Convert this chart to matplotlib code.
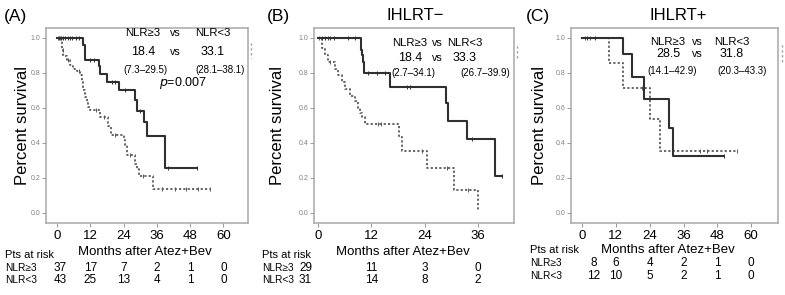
import numpy as np
import matplotlib.pyplot as plt
from matplotlib import transforms
from matplotlib.lines import Line2D

plt.rcParams['font.family'] = ['Liberation Sans', 'DejaVu Sans']

W, H = 785, 295

# ---- panel A : all patients ----
a_hi_t = [0, 1.7, 2.3, 3.5, 4.7, 5.9, 7.1, 8.3, 8.9, 9.5, 10.1, 10.7, 11.3, 11.9,
          15.5, 18.5, 19.5, 24.0, 24.5, 25.2, 28.2, 28.8, 29.4, 34.8]
a_hi_s = [1.0, 0.933, 0.894, 0.875, 0.845, 0.825, 0.808, 0.789, 0.75, 0.702, 0.664,
          0.635, 0.607, 0.587, 0.549, 0.495, 0.443, 0.415, 0.385, 0.332, 0.28, 0.25,
          0.209, 0.136]
a_hi_end = 55.2
a_hi_cens = [0.5, 1.2, 2.0, 4.0, 8.0, 14.0, 17.0, 21.0, 26.5, 31.0, 38.0, 42.5, 46.5, 51.0, 55.2]

a_lo_t = [0, 9.3, 10.0, 15.0, 15.5, 18.2, 22.5, 28.2, 28.8, 31.4, 32.6, 39.0]
a_lo_s = [1.0, 0.96, 0.871, 0.837, 0.795, 0.75, 0.70, 0.645, 0.583, 0.516, 0.44, 0.257]
a_lo_end = 50.4
a_lo_cens = [0.8, 1.5, 2.3, 3.0, 3.8, 4.6, 5.5, 7.0, 8.0, 12.0, 13.5, 19.8, 21.0,
             24.5, 30.0, 40.0, 50.4]

a_months = [0, 12, 24, 36, 48, 60]
a_risk_hi = [37, 17, 7, 2, 1, 0]
a_risk_lo = [43, 25, 13, 4, 1, 0]
a_stats = [('18.4', '33.1'), ('(7.3\u201329.5)', '(28.1\u201338.1)')]
a_p = '=0.007'

# ---- panel B : IHLRT- ----
b_hi_t = [0, 0.8, 1.6, 2.3, 3.8, 4.4, 5.3, 6.1, 7.2, 8.3, 9.1, 9.5, 9.8, 10.6,
          18.3, 18.8, 24.5, 30.5, 35.9]
b_hi_s = [1.0, 0.94, 0.90, 0.86, 0.82, 0.79, 0.75, 0.71, 0.67, 0.64, 0.60, 0.57,
          0.55, 0.505, 0.43, 0.35, 0.257, 0.13, 0.01]
b_hi_end = 35.9
b_hi_cens = [0.3, 2.8, 13.6, 14.2, 23.3, 29.0, 33.8]

b_lo_t = [0, 9.7, 9.9, 10.1, 10.4, 16.2, 28.7, 29.3, 33.5, 39.8]
b_lo_s = [1.0, 0.93, 0.90, 0.86, 0.80, 0.72, 0.63, 0.524, 0.419, 0.21]
b_lo_end = 41.3
b_lo_cens = [0.8, 1.6, 2.2, 2.8, 3.5, 6.8, 8.3, 11.3, 13.2, 15.0, 20.0, 20.7, 34.6, 41.3]

b_months = [0, 12, 24, 36]
b_risk_hi = [29, 11, 3, 0]
b_risk_lo = [31, 14, 8, 2]
b_stats = [('18.4', '33.3'), ('(2.7\u201334.1)', '(26.7\u201339.9)')]

# ---- panel C : IHLRT+ ----
c_hi_t = [0, 9.6, 14.7, 24.1, 27.7]
c_hi_s = [1.0, 0.857, 0.714, 0.537, 0.352]
c_hi_end = 54.9
c_hi_cens = [1.0, 3.0, 21.2, 41.9, 44.3, 54.9]

c_lo_t = [0, 14.7, 17.6, 22.1, 30.9, 32.4]
c_lo_s = [1.0, 0.91, 0.777, 0.648, 0.486, 0.324]
c_lo_end = 50.2
c_lo_cens = [1.7, 4.6, 50.2]

c_months = [0, 12, 24, 36, 48, 60]
c_risk_hi = [8, 6, 4, 2, 1, 0]
c_risk_lo = [12, 10, 5, 2, 1, 0]
c_stats = [('28.5', '31.8'), ('(14.1\u201342.9)', '(20.3\u201343.3)')]

y_ticks = [0.0, 0.2, 0.4, 0.6, 0.8, 1.0]

SOLID = '#303030'
DOT = '#5a5a5a'
FRAME = '#a8a8a8'


def fx(px):
    return px / W


def fy(py):
    return 1 - py / H


def km(ax, t, s, end, cens, color, ls, lw):
    ax.step(list(t) + [end], list(s) + [s[-1]], where='post', color=color, ls=ls, lw=lw)
    idx = np.searchsorted(t, cens, side='right') - 1
    ax.plot(cens, np.array(s)[idx], ls='none', marker='|', ms=3, mew=0.7, color=color)


def panel(fig, box, xlim, months):
    l, r = box
    ax = fig.add_axes([fx(l), fy(223), fx(r) - fx(l), fy(28) - fy(223)])
    ax.set_xlim(*xlim)
    ax.set_ylim(-0.06, 1.057)
    ax.set_xticks(months)
    ax.set_yticks(y_ticks)
    ax.set_yticklabels([f'{v:.1f}' for v in y_ticks])
    ax.tick_params(axis='y', length=3, width=0.6, color='#888888', labelsize=5,
                   labelcolor='#808080', pad=1)
    ax.tick_params(axis='x', length=3, width=0.6, color='#888888', labelsize=9.5, pad=2)
    for sp in ax.spines.values():
        sp.set_color(FRAME)
        sp.set_linewidth(1.1)
    return ax


def risk_table(fig, ax, months, hi, lo, first_shift, x_lab, y_rows, font=8.5):
    tr = transforms.blended_transform_factory(ax.transData, fig.transFigure)
    xs = [m + (first_shift if i == 0 else 0) for i, m in enumerate(months)]
    fig.text(fx(x_lab), fy(y_rows[0]), 'Pts at risk', fontsize=8, va='center', ha='left')
    fig.text(fx(x_lab), fy(y_rows[1]), 'NLR\u22653', fontsize=7.3, va='center', ha='left')
    fig.text(fx(x_lab), fy(y_rows[2]), 'NLR<3', fontsize=7.3, va='center', ha='left')
    for x, h, lw_ in zip(xs, hi, lo):
        ax.text(x, fy(y_rows[1]), str(h), transform=tr, fontsize=font,
                ha='center', va='center')
        ax.text(x, fy(y_rows[2]), str(lw_), transform=tr, fontsize=font,
                ha='center', va='center')


def stats_text(fig, xs, ys, stats):
    fs = 8.2
    kw = dict(ha='center', va='center')
    fig.text(fx(xs[0]), fy(ys[0]), 'NLR\u22653', fontsize=fs, **kw)
    fig.text(fx(xs[1]), fy(ys[0]), 'vs', fontsize=fs - 0.5, **kw)
    fig.text(fx(xs[2]), fy(ys[0]), 'NLR<3', fontsize=fs, **kw)
    fig.text(fx(xs[0]), fy(ys[1]), stats[0][0], fontsize=fs + 0.8, **kw)
    fig.text(fx(xs[1]), fy(ys[1]), 'vs', fontsize=fs - 0.5, **kw)
    fig.text(fx(xs[2]), fy(ys[1]), stats[0][1], fontsize=fs + 0.8, **kw)
    fig.text(fx(xs[3]), fy(ys[2]), stats[1][0], fontsize=7, **kw)
    fig.text(fx(xs[4]), fy(ys[2]), stats[1][1], fontsize=7, **kw)


fig = plt.figure(figsize=(W / 100, H / 100), dpi=100)
fig.set_facecolor('white')

# panel A
axA = panel(fig, (46, 248), (-3.97, 68.9), a_months)
km(axA, a_hi_t, a_hi_s, a_hi_end, a_hi_cens, DOT, (0, (1.2, 1.2)), 1.3)
km(axA, a_lo_t, a_lo_s, a_lo_end, a_lo_cens, SOLID, '-', 1.5)
stats_text(fig, [143, 175, 213, 145, 220], [33, 52, 70], a_stats)
fig.text(fx(183), fy(83), r'$p$' + a_p, fontsize=9, ha='center', va='center')

# panel B
axB = panel(fig, (314, 514), (-0.9, 44.1), b_months)
km(axB, b_hi_t, b_hi_s, b_hi_end, b_hi_cens, DOT, (0, (1.2, 1.2)), 1.3)
km(axB, b_lo_t, b_lo_s, b_lo_end, b_lo_cens, SOLID, '-', 1.5)
stats_text(fig, [410, 437, 465, 413, 485], [43, 58, 73], b_stats)

# panel C
axC = panel(fig, (571, 778), (-3.9, 69.5), c_months)
km(axC, c_hi_t, c_hi_s, c_hi_end, c_hi_cens, DOT, (0, (1.2, 1.2)), 1.3)
km(axC, c_lo_t, c_lo_s, c_lo_end, c_lo_cens, SOLID, '-', 1.5)
stats_text(fig, [668, 697, 732, 672, 742], [42, 54, 71], c_stats)

# panel letters, titles, y labels
for x, lab in [(4, '(A)'), (267, '(B)'), (526, '(C)')]:
    fig.text(fx(x), fy(16), lab, fontsize=12.5, ha='left', va='center')
fig.text(fx(415), fy(16), 'IHLRT\u2212', fontsize=12, ha='center', va='center')
fig.text(fx(678), fy(16), 'IHLRT+', fontsize=12, ha='center', va='center')
for x in [23, 278, 540]:
    fig.text(fx(x), fy(126), 'Percent survival', fontsize=12, rotation=90,
             ha='center', va='center')

# x labels
for x, y in [(145, 252), (403, 252), (668, 250)]:
    fig.text(fx(x), fy(y), 'Months after Atez+Bev', fontsize=9.5, ha='center', va='center')

# numbers at risk
risk_table(fig, axA, a_months, a_risk_hi, a_risk_lo, 1.0, 5, [255, 268, 280])
risk_table(fig, axB, b_months, b_risk_hi, b_risk_lo, -2.8, 262, [255, 268, 280])
risk_table(fig, axC, c_months, c_risk_hi, c_risk_lo, 4.0, 530, [250, 263, 276])

# leftover legend marks beside the frames
for x, y0, y1 in [(251, 43, 58), (517, 46, 60), (782, 45, 62)]:
    fig.add_artist(Line2D([fx(x)] * 2, [fy(y0), fy(y1)], ls=(0, (1.5, 2.0)),
                          color='#999999', lw=1.0))

fig.savefig('out.png', dpi=100, facecolor='white')
